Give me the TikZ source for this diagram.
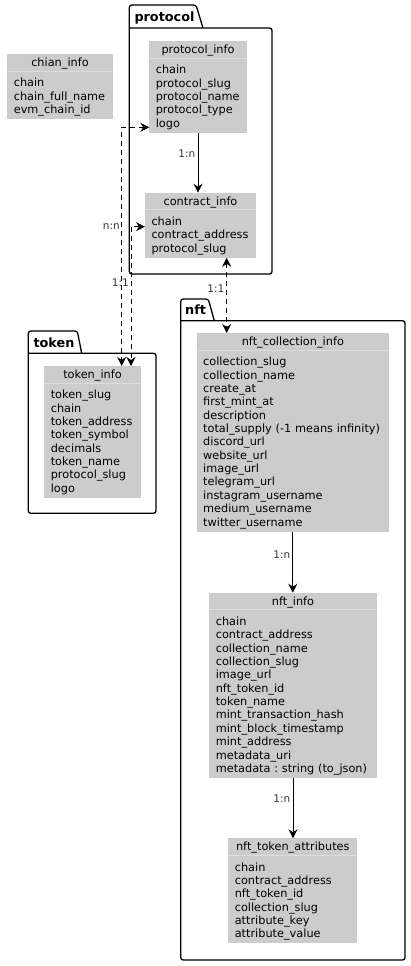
\documentclass[tikz,border=0pt]{standalone}
\usepackage{fontspec}
\setmainfont{DejaVu Sans}
\usetikzlibrary{arrows.meta,positioning}
\definecolor{entGray}{HTML}{CCCCCC}
\definecolor{sepGray}{HTML}{DDDDDD}
\definecolor{lblGray}{HTML}{333333}

\begin{document}
\begin{tikzpicture}[
    x=1pt,y=-1pt,
    tblhead/.style={fill=entGray,anchor=north west,inner sep=0pt,outer sep=0pt,
      minimum height=17pt,text height=9.5pt,text depth=1.5pt,
      font=\fontsize{11.3}{13.35}\selectfont},
    tblbody/.style={fill=entGray,inner xsep=6.5pt,inner ysep=0pt,outer sep=0pt,
      align=left,font=\fontsize{11.3}{13.35}\selectfont,
      execute at begin node={\rule{0pt}{15.8pt}},
      execute at end node={\rule[-5.6pt]{0pt}{5.6pt}}},
    sepline/.style={draw=sepGray,line width=0.8pt},
    pkg/.style={draw=black,line width=1.3pt,rounded corners=2.5pt},
    pkgtitle/.style={anchor=base west,inner sep=0pt,font=\fontsize{12.8}{15}\selectfont\bfseries},
    arrow/.style={-{Stealth[length=9pt,width=9pt,inset=3pt]},line width=1pt},
    dlink/.style={{Stealth[length=9pt,width=9pt,inset=3pt]}-{Stealth[length=9pt,width=9pt,inset=3pt]},
      line width=1pt,dash pattern=on 5pt off 4pt},
    lbl/.style={anchor=east,inner sep=0pt,text=lblGray,font=\fontsize{10.5}{12}\selectfont}]
    \useasboundingbox (0,0) rectangle (410,966);

    % packages
    \draw[pkg] (129.3,28) -- (272,28) -- (272,274) -- (129.3,274) -- (129.3,5) -- (196,5) -- (203,28);
    \node[pkgtitle] (protocolpkg) at (134.3,21.5) {protocol};
    \draw[pkg] (28.3,353.3) -- (156,353.3) -- (156,513.3) -- (28.3,513.3) -- (28.3,331) -- (77.3,331) -- (81.7,353.3);
    \node[pkgtitle] (tokenpkg) at (33.3,347) {token};
    \draw[pkg] (180.7,320.7) -- (405,320.7) -- (405,960) -- (180.7,960) -- (180.7,299) -- (208.3,299) -- (214.3,320.7);
    \node[pkgtitle] (nftpkg) at (185,314) {nft};

    % tables
    \node[tblhead,minimum width=105.4pt] (chainhead) at (7.3,54) {chian\_info};
    \node[tblbody,below=0pt of chainhead,text width=92.4pt] (chain)
      {chain\\chain\_full\_name\\evm\_chain\_id};
    \draw[sepline] (chainhead.south west) -- (chainhead.south east);

    \node[tblhead,minimum width=97.4pt] (protocolhead) at (149.3,41) {protocol\_info};
    \node[tblbody,below=0pt of protocolhead,text width=84.4pt] (protocol)
      {chain\\protocol\_slug\\protocol\_name\\protocol\_type\\logo};
    \draw[sepline] (protocolhead.south west) -- (protocolhead.south east);

    \node[tblhead,minimum width=111pt] (contracthead) at (145,192.7) {contract\_info};
    \node[tblbody,below=0pt of contracthead,text width=98pt] (contract)
      {chain\\contract\_address\\protocol\_slug};
    \draw[sepline] (contracthead.south west) -- (contracthead.south east);

    \node[tblhead,minimum width=96.4pt] (tokenhead) at (44.3,366) {token\_info};
    \node[tblbody,below=0pt of tokenhead,text width=83.4pt] (token)
      {token\_slug\\chain\\token\_address\\token\_symbol\\decimals\\token\_name\\protocol\_slug\\logo};
    \draw[sepline] (tokenhead.south west) -- (tokenhead.south east);

    \node[tblhead,minimum width=192.3pt] (collectionhead) at (196.7,333) {nft\_collection\_info};
    \node[tblbody,below=0pt of collectionhead,text width=179.3pt] (collection)
      {collection\_slug\\collection\_name\\create\_at\\first\_mint\_at\\description\\
       total\_supply~(-1~means~infinity)\\discord\_url\\website\_url\\image\_url\\telegram\_url\\
       instagram\_username\\medium\_username\\twitter\_username};
    \draw[sepline] (collectionhead.south west) -- (collectionhead.south east);

    \node[tblhead,minimum width=167.4pt] (nfthead) at (209.3,592.7) {nft\_info};
    \node[tblbody,below=0pt of nfthead,text width=154.4pt] (nft)
      {chain\\contract\_address\\collection\_name\\collection\_slug\\image\_url\\nft\_token\_id\\
       token\_name\\mint\_transaction\_hash\\mint\_block\_timestamp\\mint\_address\\metadata\_uri\\
       metadata~:~string~(to\_json)};
    \draw[sepline] (nfthead.south west) -- (nfthead.south east);

    \node[tblhead,minimum width=129pt] (attrhead) at (228.3,838.3) {nft\_token\_attributes};
    \node[tblbody,below=0pt of attrhead,text width=116pt] (attr)
      {chain\\contract\_address\\nft\_token\_id\\collection\_slug\\attribute\_key\\attribute\_value};
    \draw[sepline] (attrhead.south west) -- (attrhead.south east);

    % relations
    \draw[arrow] (protocol.south) -- (protocol.south |- contracthead.north);
    \draw[arrow] (collection.south) -- (collection.south |- nfthead.north);
    \draw[arrow] (nft.south) -- (nft.south |- attrhead.north);

    \coordinate (pturn) at (121.7,127.3);
    \draw[dlink] (pturn -| protocol.west) -- (pturn) -- (pturn |- tokenhead.north);
    \coordinate (cturn) at (131,226.7);
    \draw[dlink] (cturn -| contract.west) -- (cturn) -- (cturn |- tokenhead.north);
    \coordinate (nturn) at (226.7,300);
    \draw[dlink] (nturn |- contract.south) -- (nturn |- collectionhead.north);

    \node[lbl] (pclabel) at (195.5,154) {1:n};
    \node[lbl] (ptlabel) at (120,227) {n:n};
    \node[lbl] (ctlabel) at (129,282.5) {1:1};
    \node[lbl] (cnlabel) at (224.5,289) {1:1};
    \node[lbl] (cclabel) at (290.5,554.5) {1:n};
    \node[lbl] (nalabel) at (290.5,798.5) {1:n};
  \end{tikzpicture}
\end{document}
